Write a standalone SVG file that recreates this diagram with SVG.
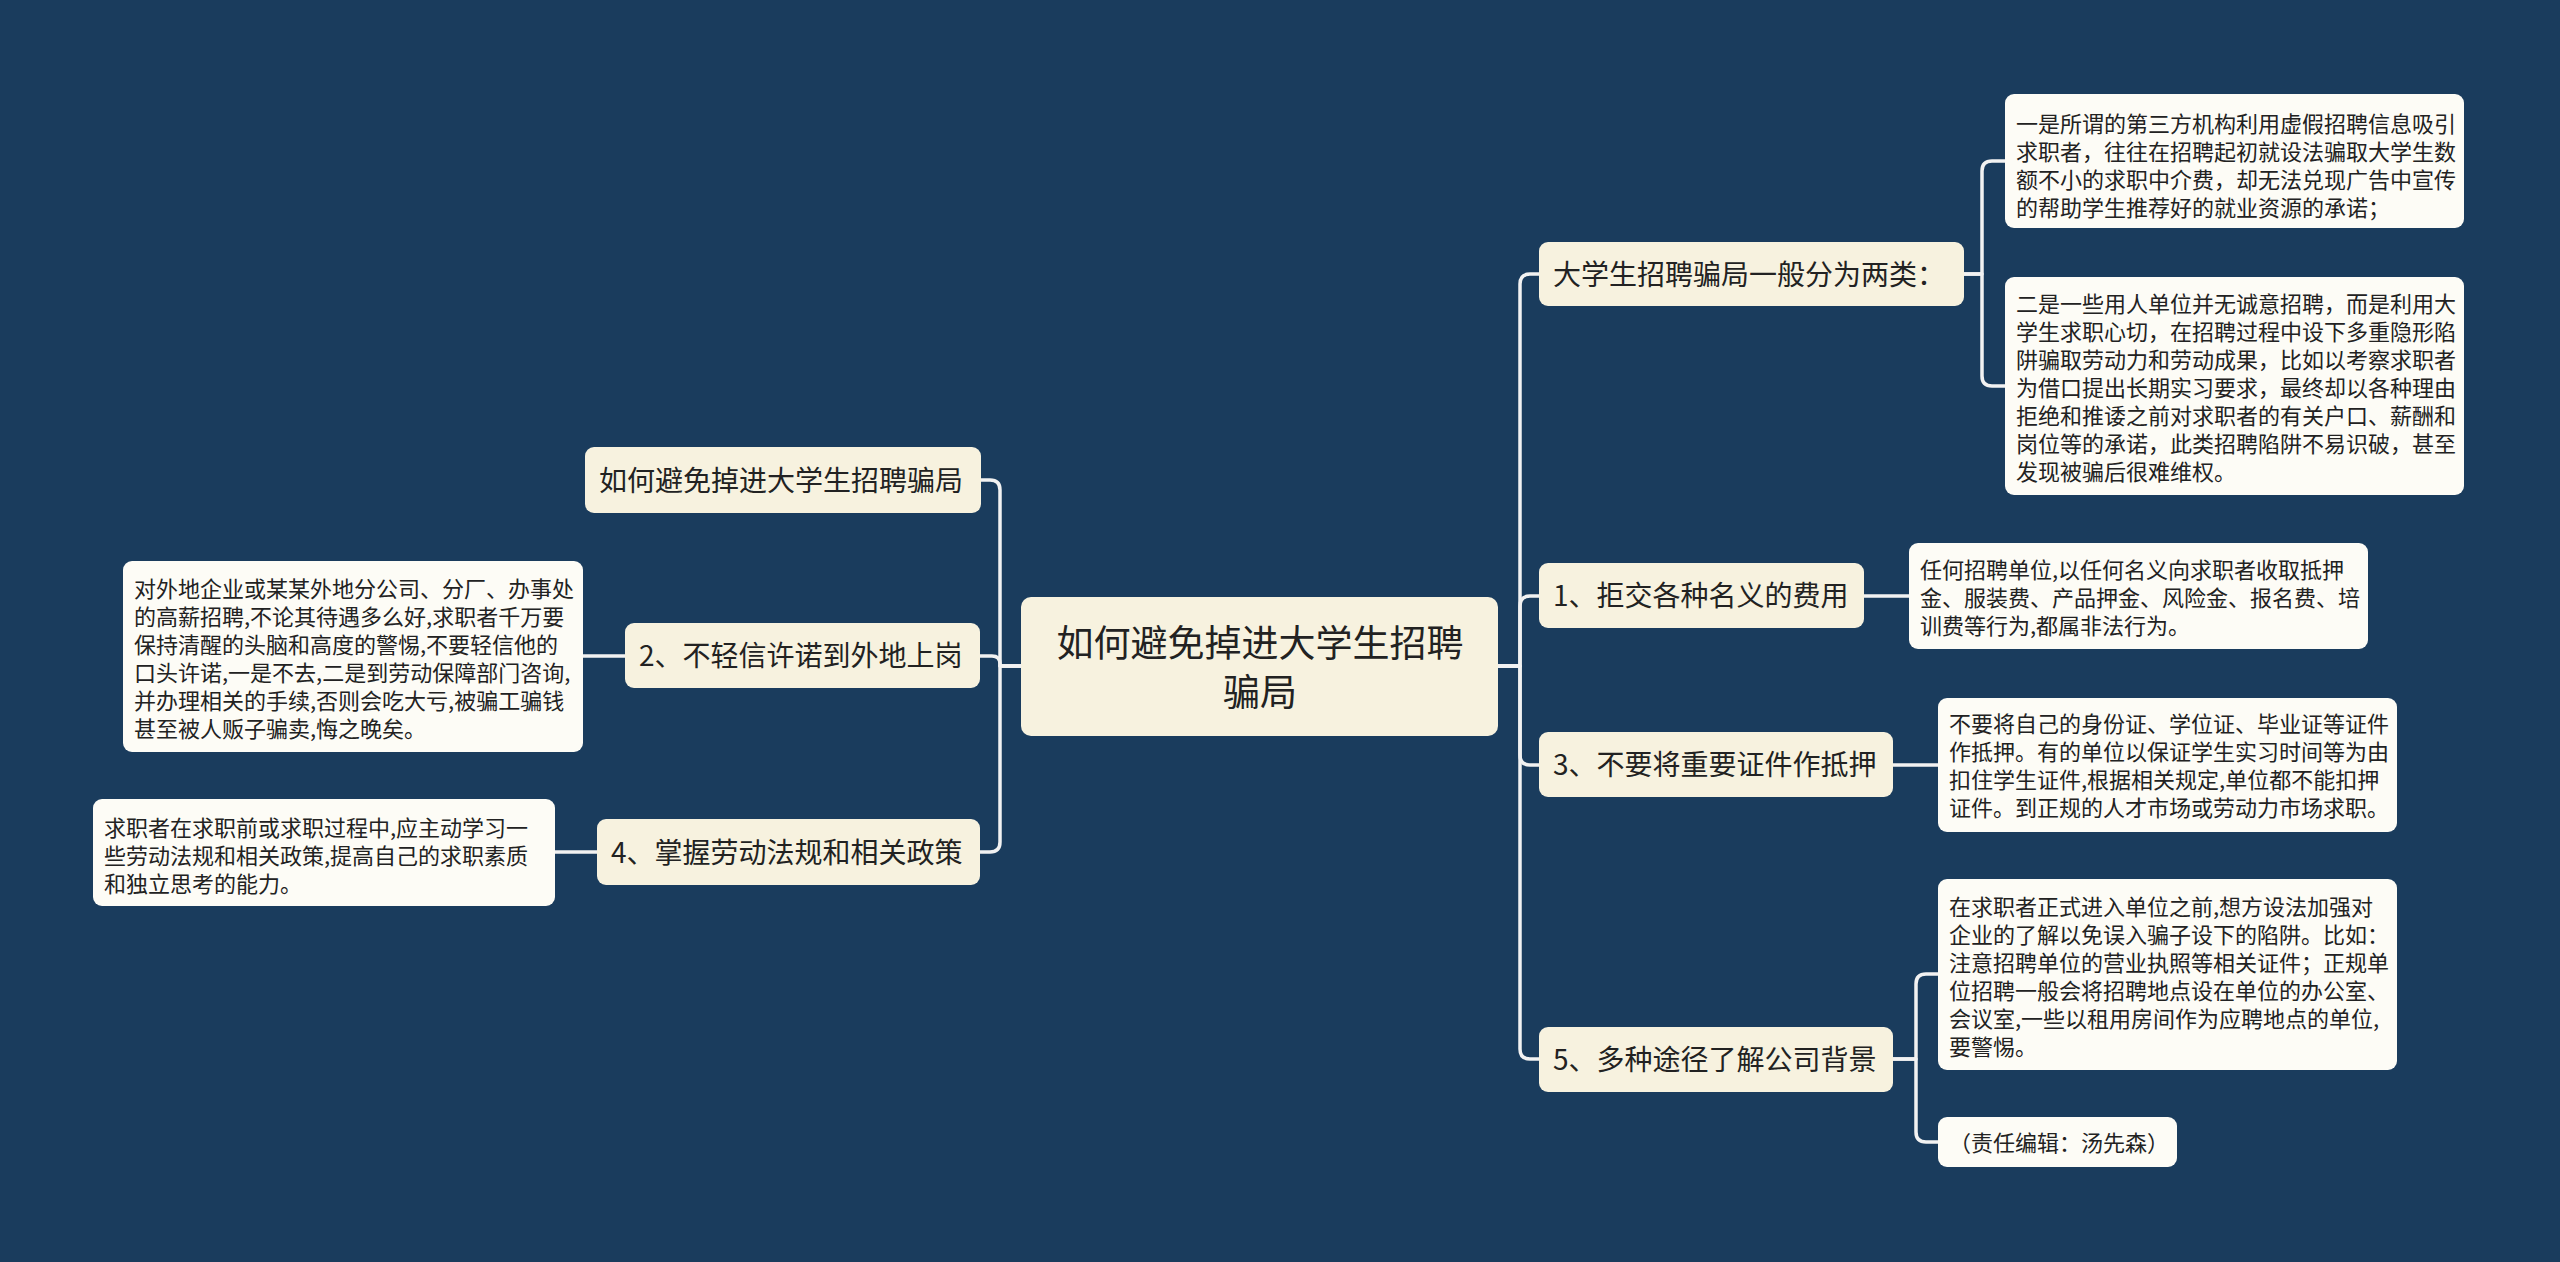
<svg xmlns="http://www.w3.org/2000/svg" width="2560" height="1262" viewBox="0 0 2560 1262">
<style>
.bg{fill:#1a3c5d}
.node rect{fill:#f7f2df}
.leaf rect{fill:#fdfcf6}
.root rect{fill:#f7f2df}
text{font-family:"Noto Sans CJK SC","Noto Sans",sans-serif;fill:#222}
.nt{font-size:28px}
.lt{font-size:22px}
.rt{font-size:37px}
#connectors path{fill:none;stroke:#f2f2f2;stroke-width:3.5;stroke-linecap:round;stroke-linejoin:round}
</style>
<rect class="bg" x="0" y="0" width="2560" height="1262"/>
<g id="connectors">
<path d="M1498,666 H1520 V284 Q1520,274 1530,274 H1539"/>
<path d="M1498,666 H1520 V606 Q1520,596 1530,596 H1539"/>
<path d="M1498,666 H1520 V755 Q1520,765 1530,765 H1539"/>
<path d="M1498,666 H1520 V1049 Q1520,1059 1530,1059 H1539"/>
<path d="M1964,274 H1982 V171 Q1982,161 1992,161 H2005"/>
<path d="M1964,274 H1982 V376 Q1982,386 1992,386 H2005"/>
<path d="M1864,596 H1909"/>
<path d="M1893,765 H1938"/>
<path d="M1893,1059 H1916 V984 Q1916,974 1926,974 H1938"/>
<path d="M1893,1059 H1916 V1132 Q1916,1142 1926,1142 H1938"/>
<path d="M1021,666 H1000 V490 Q1000,480 990,480 H981"/>
<path d="M1021,666 H1000 V664 Q1000,656 992,656 H980"/>
<path d="M1021,666 H1000 V842 Q1000,852 990,852 H980"/>
<path d="M625,656 H583"/>
<path d="M597,852 H555"/>
</g>
<g id="root" class="root">
<rect x="1021" y="597" width="477" height="139" rx="10"/>
<text class="rt" text-anchor="middle"><tspan x="1260" y="657">如何避免掉进大学生招聘</tspan><tspan x="1260" y="706">骗局</tspan></text>
</g>
<g id="nodeA" class="node">
<rect x="1539" y="242" width="425" height="64" rx="9"/>
<text class="nt" x="1553" y="285">大学生招聘骗局一般分为两类：</text>
</g>
<g id="leafA1" class="leaf">
<rect x="2005" y="94" width="459" height="134" rx="9"/>
<text class="lt"><tspan x="2016" y="132">一是所谓的第三方机构利用虚假招聘信息吸引</tspan><tspan x="2016" y="160">求职者，往往在招聘起初就设法骗取大学生数</tspan><tspan x="2016" y="188">额不小的求职中介费，却无法兑现广告中宣传</tspan><tspan x="2016" y="216">的帮助学生推荐好的就业资源的承诺；</tspan></text>
</g>
<g id="leafA2" class="leaf">
<rect x="2005" y="277" width="459" height="218" rx="9"/>
<text class="lt"><tspan x="2016" y="312">二是一些用人单位并无诚意招聘，而是利用大</tspan><tspan x="2016" y="340">学生求职心切，在招聘过程中设下多重隐形陷</tspan><tspan x="2016" y="368">阱骗取劳动力和劳动成果，比如以考察求职者</tspan><tspan x="2016" y="396">为借口提出长期实习要求，最终却以各种理由</tspan><tspan x="2016" y="424">拒绝和推诿之前对求职者的有关户口、薪酬和</tspan><tspan x="2016" y="452">岗位等的承诺，此类招聘陷阱不易识破，甚至</tspan><tspan x="2016" y="480">发现被骗后很难维权。</tspan></text>
</g>
<g id="node1" class="node">
<rect x="1539" y="563" width="325" height="65" rx="9"/>
<text class="nt" x="1553" y="606">1、拒交各种名义的费用</text>
</g>
<g id="leaf1" class="leaf">
<rect x="1909" y="543" width="459" height="106" rx="9"/>
<text class="lt"><tspan x="1920" y="578">任何招聘单位,以任何名义向求职者收取抵押</tspan><tspan x="1920" y="606">金、服装费、产品押金、风险金、报名费、培</tspan><tspan x="1920" y="634">训费等行为,都属非法行为。</tspan></text>
</g>
<g id="node3" class="node">
<rect x="1539" y="732" width="354" height="65" rx="9"/>
<text class="nt" x="1553" y="775">3、不要将重要证件作抵押</text>
</g>
<g id="leaf3" class="leaf">
<rect x="1938" y="698" width="459" height="134" rx="9"/>
<text class="lt"><tspan x="1949" y="732">不要将自己的身份证、学位证、毕业证等证件</tspan><tspan x="1949" y="760">作抵押。有的单位以保证学生实习时间等为由</tspan><tspan x="1949" y="788">扣住学生证件,根据相关规定,单位都不能扣押</tspan><tspan x="1949" y="816">证件。到正规的人才市场或劳动力市场求职。</tspan></text>
</g>
<g id="node5" class="node">
<rect x="1539" y="1027" width="354" height="65" rx="9"/>
<text class="nt" x="1553" y="1070">5、多种途径了解公司背景</text>
</g>
<g id="leaf5" class="leaf">
<rect x="1938" y="879" width="459" height="191" rx="9"/>
<text class="lt"><tspan x="1949" y="915">在求职者正式进入单位之前,想方设法加强对</tspan><tspan x="1949" y="943">企业的了解以免误入骗子设下的陷阱。比如：</tspan><tspan x="1949" y="971">注意招聘单位的营业执照等相关证件；正规单</tspan><tspan x="1949" y="999">位招聘一般会将招聘地点设在单位的办公室、</tspan><tspan x="1949" y="1027">会议室,一些以租用房间作为应聘地点的单位,</tspan><tspan x="1949" y="1055">要警惕。</tspan></text>
</g>
<g id="leaf5b" class="leaf">
<rect x="1938" y="1117" width="239" height="50" rx="9"/>
<text class="lt" x="1949" y="1151">（责任编辑：汤先森）</text>
</g>
<g id="nodeL1" class="node">
<rect x="585" y="447" width="396" height="66" rx="9"/>
<text class="nt" x="599" y="491">如何避免掉进大学生招聘骗局</text>
</g>
<g id="nodeL2" class="node">
<rect x="625" y="623" width="355" height="65" rx="9"/>
<text class="nt" x="639" y="666">2、不轻信许诺到外地上岗</text>
</g>
<g id="leafL2" class="leaf">
<rect x="123" y="561" width="460" height="191" rx="9"/>
<text class="lt"><tspan x="134" y="597">对外地企业或某某外地分公司、分厂、办事处</tspan><tspan x="134" y="625">的高薪招聘,不论其待遇多么好,求职者千万要</tspan><tspan x="134" y="653">保持清醒的头脑和高度的警惕,不要轻信他的</tspan><tspan x="134" y="681">口头许诺,一是不去,二是到劳动保障部门咨询,</tspan><tspan x="134" y="709">并办理相关的手续,否则会吃大亏,被骗工骗钱</tspan><tspan x="134" y="737">甚至被人贩子骗卖,悔之晚矣。</tspan></text>
</g>
<g id="nodeL4" class="node">
<rect x="597" y="819" width="383" height="66" rx="9"/>
<text class="nt" x="611" y="863">4、掌握劳动法规和相关政策</text>
</g>
<g id="leafL4" class="leaf">
<rect x="93" y="799" width="462" height="107" rx="9"/>
<text class="lt"><tspan x="104" y="836">求职者在求职前或求职过程中,应主动学习一</tspan><tspan x="104" y="864">些劳动法规和相关政策,提高自己的求职素质</tspan><tspan x="104" y="892">和独立思考的能力。</tspan></text>
</g>
</svg>
